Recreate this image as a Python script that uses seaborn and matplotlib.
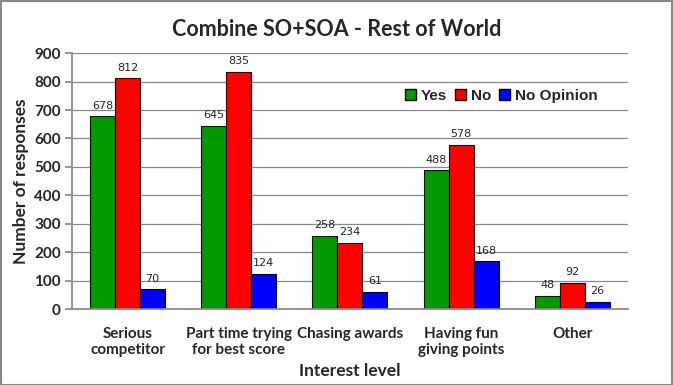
import matplotlib
matplotlib.use("Agg")
import matplotlib.pyplot as plt
import seaborn as sns
import pandas as pd
from matplotlib.patches import Patch

categories = ["Serious\ncompetitor", "Part time trying\nfor best score", "Chasing awards",
              "Having fun\ngiving points", "Other"]
yes_vals = [678, 645, 258, 488, 48]
no_vals = [812, 835, 234, 578, 92]
noop_vals = [70, 124, 61, 168, 26]
series = ["Yes", "No", "No Opinion"]
colors = ["#009900", "#FF0000", "#0000FF"]
yticks = [0, 100, 200, 300, 400, 500, 600, 700, 800, 900]

rows = []
for s, vals in zip(series, [yes_vals, no_vals, noop_vals]):
    for c, v in zip(categories, vals):
        rows.append({"Interest level": c, "Number of responses": v, "Response": s})
df = pd.DataFrame(rows)

sns.set_theme(style="white")
plt.rcParams["font.family"] = ["Lato", "DejaVu Sans"]

fig = plt.figure(figsize=(6.73, 3.85), dpi=100)
ax = fig.add_axes([0.107, 0.197, 0.826, 0.665])
sns.barplot(data=df, x="Interest level", y="Number of responses", hue="Response",
            palette=colors, hue_order=series, order=categories, width=0.675,
            edgecolor="black", linewidth=0.8, saturation=1, ax=ax, legend=False,
            errorbar=None)

ax.set_ylim(0, 900)
ax.set_yticks(yticks)
ax.yaxis.grid(True, color="#888888", linewidth=0.9)
ax.set_axisbelow(True)
for side in ["top", "right"]:
    ax.spines[side].set_visible(False)
ax.spines["left"].set_color("#888888")
ax.spines["bottom"].set_color("#888888")
ax.tick_params(axis="y", left=True, length=5, color="#888888", labelsize=11, pad=3)
ax.tick_params(axis="x", bottom=False, labelsize=11, pad=7)
for lab in ax.get_yticklabels() + ax.get_xticklabels():
    lab.set_fontweight("bold")

for cont in ax.containers:
    ax.bar_label(cont, fontsize=8, padding=4, family="DejaVu Sans")

ax.set_xlabel("Interest level", fontsize=12.5, fontweight="bold", labelpad=4)
ax.set_ylabel("Number of responses", fontsize=12.5, fontweight="bold", labelpad=4)
fig.suptitle("Combine SO+SOA - Rest of World", fontsize=15.5, fontweight="bold", y=0.95)

handles = [Patch(facecolor=c, edgecolor="black", label=s) for s, c in zip(series, colors)]
leg = ax.legend(handles=handles, loc="upper right", bbox_to_anchor=(0.97, 0.915), ncol=3,
                frameon=False, handlelength=0.75, handleheight=0.75, handletextpad=0.3,
                columnspacing=0.5, prop={"family": "Liberation Sans", "weight": "bold", "size": 11})

fig.patches.append(plt.Rectangle((0.001, 0.001), 0.997, 0.996, transform=fig.transFigure,
                                 fill=False, edgecolor="#888888", linewidth=1.5))
fig.savefig("out.png", dpi=100)
